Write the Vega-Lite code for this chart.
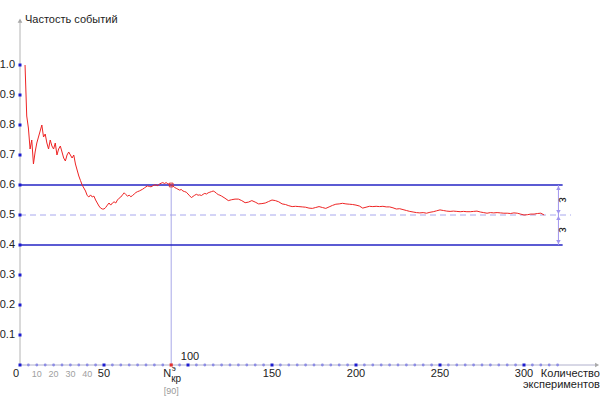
{
 "$schema": "https://vega.github.io/schema/vega-lite/v6.json",
 "width": 580, "height": 347,
 "autosize": {"type": "none"},
 "padding": {"left": 20, "top": 18, "right": 10, "bottom": 38},
 "background": "white",
 "config": {"view": {"stroke": null}, "text": {"font": "Liberation Sans Narrow, Liberation Sans, sans-serif", "fontSize": 11, "color": "#222222", "baseline": "middle"}},
 "encoding": {
  "x": {"field": "x", "type": "quantitative", "scale": {"domain": [0, 345.24], "nice": false, "zero": false}, "axis": null},
  "y": {"field": "y", "type": "quantitative", "scale": {"domain": [0, 1.1567], "nice": false, "zero": false}, "axis": null}
 },
 "datasets": {
  "yaxis": [{"x": 0, "y": 0, "y2": 1.15}],
  "xaxis": [{"x": 0, "y": 0, "x2": 343}],
  "yarrow": [{"x": 0, "y": 1.148}],
  "xarrow": [{"x": 343.5, "y": 0}],
  "mid": [{"x": 0, "y": 0.5, "x2": 328}],
  "vert": [{"x": 90, "y": 0, "y2": 0.6}],
  "bounds": [{"x": 0, "y": 0.6, "x2": 323}, {"x": 0, "y": 0.4, "x2": 323}],
  "eps": [{"x": 320.5, "y": 0.4, "y2": 0.6}],
  "epsUp": [{"x": 320.5, "y": 0.6}, {"x": 320.5, "y": 0.5}],
  "epsDown": [{"x": 320.5, "y": 0.5}, {"x": 320.5, "y": 0.4}],
  "epsText": [{"x": 323.5, "y": 0.55, "t": "ε"}, {"x": 323.5, "y": 0.45, "t": "ε"}],
  "curve": [
   {"x":3,"y":1.0},{"x":4,"y":0.83},{"x":5,"y":0.79},{"x":6,"y":0.72},{"x":7,"y":0.75},{"x":8,"y":0.67},{"x":9,"y":0.71},{"x":10,"y":0.74},
   {"x":11,"y":0.76},{"x":12,"y":0.78},{"x":13,"y":0.80},{"x":14,"y":0.76},{"x":15,"y":0.77},{"x":16,"y":0.74},{"x":17,"y":0.72},{"x":18,"y":0.75},
   {"x":19,"y":0.73},{"x":20,"y":0.72},{"x":21,"y":0.74},{"x":22,"y":0.70},{"x":23,"y":0.72},{"x":24,"y":0.73},{"x":25,"y":0.71},{"x":26,"y":0.69},
   {"x":27,"y":0.68},{"x":28,"y":0.70},{"x":29,"y":0.71},{"x":30,"y":0.70},{"x":31,"y":0.69},{"x":32,"y":0.70},{"x":33,"y":0.67},{"x":34,"y":0.65},
   {"x":35,"y":0.63},{"x":36,"y":0.615},{"x":37,"y":0.60},{"x":38,"y":0.59},{"x":39,"y":0.58},{"x":40,"y":0.565},{"x":41,"y":0.56},{"x":42,"y":0.567},
   {"x":43,"y":0.56},{"x":44,"y":0.563},{"x":45,"y":0.55},{"x":46,"y":0.54},{"x":47,"y":0.53},{"x":48,"y":0.523},{"x":49,"y":0.52},{"x":50,"y":0.52},
   {"x":51,"y":0.525},{"x":52,"y":0.533},{"x":53,"y":0.54},{"x":54,"y":0.533},{"x":55,"y":0.54},{"x":56,"y":0.544},{"x":57,"y":0.54},{"x":58,"y":0.55},
   {"x":59,"y":0.556},{"x":60,"y":0.56},{"x":61,"y":0.567},{"x":62,"y":0.574},{"x":63,"y":0.568},{"x":64,"y":0.563},{"x":65,"y":0.566},{"x":66,"y":0.561},
   {"x":67,"y":0.565},{"x":68,"y":0.57},{"x":69,"y":0.575},{"x":70,"y":0.578},{"x":71,"y":0.58},{"x":72,"y":0.583},{"x":73,"y":0.586},{"x":74,"y":0.59},
   {"x":75,"y":0.594},{"x":76,"y":0.597},{"x":77,"y":0.595},{"x":78,"y":0.594},{"x":79,"y":0.597},{"x":80,"y":0.60},{"x":81,"y":0.60},{"x":82,"y":0.598},
   {"x":83,"y":0.603},{"x":84,"y":0.606},{"x":85,"y":0.608},{"x":86,"y":0.605},{"x":87,"y":0.608},{"x":88,"y":0.604},{"x":89,"y":0.602},{"x":90,"y":0.60},
   {"x":91,"y":0.597},{"x":92,"y":0.592},{"x":93,"y":0.589},{"x":94,"y":0.586},{"x":95,"y":0.583},{"x":96,"y":0.585},{"x":97,"y":0.58},{"x":98,"y":0.578},
   {"x":99,"y":0.576},{"x":100,"y":0.57},{"x":101,"y":0.564},{"x":102,"y":0.558},{"x":103,"y":0.562},{"x":104,"y":0.566},{"x":105,"y":0.569},{"x":106,"y":0.566},
   {"x":107,"y":0.567},{"x":108,"y":0.565},{"x":109,"y":0.569},{"x":110,"y":0.572},{"x":111,"y":0.57},{"x":112,"y":0.574},{"x":113,"y":0.576},{"x":114,"y":0.578},
   {"x":115,"y":0.58},{"x":116,"y":0.577},{"x":117,"y":0.572},{"x":118,"y":0.568},{"x":119,"y":0.566},{"x":120,"y":0.563},
   {"x":122,"y":0.556},{"x":124,"y":0.548},{"x":126,"y":0.551},{"x":128,"y":0.553},{"x":130,"y":0.553},{"x":132,"y":0.548},{"x":134,"y":0.541},{"x":136,"y":0.543},
   {"x":138,"y":0.548},{"x":140,"y":0.543},{"x":142,"y":0.537},{"x":144,"y":0.538},{"x":146,"y":0.54},{"x":148,"y":0.545},{"x":150,"y":0.55},{"x":152,"y":0.548},
   {"x":154,"y":0.544},{"x":156,"y":0.537},{"x":158,"y":0.535},{"x":160,"y":0.531},{"x":162,"y":0.528},{"x":164,"y":0.529},{"x":166,"y":0.528},{"x":168,"y":0.527},
   {"x":170,"y":0.526},{"x":172,"y":0.523},{"x":174,"y":0.522},{"x":176,"y":0.525},{"x":178,"y":0.528},{"x":180,"y":0.525},{"x":182,"y":0.522},{"x":184,"y":0.527},
   {"x":186,"y":0.532},{"x":188,"y":0.536},{"x":190,"y":0.537},{"x":192,"y":0.539},{"x":194,"y":0.537},{"x":196,"y":0.536},{"x":198,"y":0.535},{"x":200,"y":0.533},
   {"x":202,"y":0.53},{"x":204,"y":0.523},{"x":206,"y":0.526},{"x":208,"y":0.529},{"x":210,"y":0.528},{"x":212,"y":0.529},{"x":214,"y":0.528},{"x":216,"y":0.529},
   {"x":218,"y":0.527},{"x":220,"y":0.527},{"x":222,"y":0.524},{"x":224,"y":0.52},{"x":226,"y":0.521},{"x":228,"y":0.518},{"x":230,"y":0.515},{"x":232,"y":0.512},
   {"x":234,"y":0.51},{"x":236,"y":0.508},{"x":238,"y":0.507},{"x":240,"y":0.508},{"x":242,"y":0.506},{"x":244,"y":0.509},{"x":246,"y":0.511},{"x":248,"y":0.514},
   {"x":250,"y":0.517},{"x":252,"y":0.515},{"x":254,"y":0.513},{"x":256,"y":0.512},{"x":258,"y":0.513},{"x":260,"y":0.512},{"x":262,"y":0.511},{"x":264,"y":0.512},
   {"x":266,"y":0.511},{"x":268,"y":0.511},{"x":270,"y":0.512},{"x":272,"y":0.513},{"x":274,"y":0.51},{"x":276,"y":0.508},{"x":278,"y":0.506},{"x":280,"y":0.508},
   {"x":282,"y":0.507},{"x":284,"y":0.508},{"x":286,"y":0.507},{"x":288,"y":0.506},{"x":290,"y":0.506},{"x":292,"y":0.505},{"x":294,"y":0.507},{"x":296,"y":0.506},
   {"x":298,"y":0.503},{"x":300,"y":0.50},{"x":302,"y":0.501},{"x":304,"y":0.503},{"x":306,"y":0.503},{"x":308,"y":0.505},{"x":310,"y":0.506},{"x":312,"y":0.50}
  ],
  "yticks": [{"x":0,"y":0.1,"t":"0.1"},{"x":0,"y":0.2,"t":"0.2"},{"x":0,"y":0.3,"t":"0.3"},{"x":0,"y":0.4,"t":"0.4"},{"x":0,"y":0.5,"t":"0.5"},{"x":0,"y":0.6,"t":"0.6"},{"x":0,"y":0.7,"t":"0.7"},{"x":0,"y":0.8,"t":"0.8"},{"x":0,"y":0.9,"t":"0.9"},{"x":0,"y":1.0,"t":"1.0"}],
  "xmajor": [{"x":0,"y":0},{"x":50,"y":0},{"x":100,"y":0},{"x":150,"y":0},{"x":200,"y":0},{"x":250,"y":0},{"x":300,"y":0}],
  "xminor": [{"x":5,"y":0},{"x":10,"y":0},{"x":15,"y":0},{"x":20,"y":0},{"x":25,"y":0},{"x":30,"y":0},{"x":35,"y":0},{"x":40,"y":0},{"x":45,"y":0},
   {"x":55,"y":0},{"x":60,"y":0},{"x":65,"y":0},{"x":70,"y":0},{"x":75,"y":0},{"x":80,"y":0},{"x":85,"y":0},{"x":95,"y":0},
   {"x":105,"y":0},{"x":110,"y":0},{"x":115,"y":0},{"x":120,"y":0},{"x":125,"y":0},{"x":130,"y":0},{"x":135,"y":0},{"x":140,"y":0},{"x":145,"y":0},
   {"x":155,"y":0},{"x":160,"y":0},{"x":165,"y":0},{"x":170,"y":0},{"x":175,"y":0},{"x":180,"y":0},{"x":185,"y":0},{"x":190,"y":0},{"x":195,"y":0},
   {"x":205,"y":0},{"x":210,"y":0},{"x":215,"y":0},{"x":220,"y":0},{"x":225,"y":0},{"x":230,"y":0},{"x":235,"y":0},{"x":240,"y":0},{"x":245,"y":0},
   {"x":255,"y":0},{"x":260,"y":0},{"x":265,"y":0},{"x":270,"y":0},{"x":275,"y":0},{"x":280,"y":0},{"x":285,"y":0},{"x":290,"y":0},{"x":295,"y":0},
   {"x":305,"y":0},{"x":310,"y":0},{"x":315,"y":0},{"x":320,"y":0}],
  "ncr": [{"x":90,"y":0}],
  "ncrTop": [{"x":90,"y":0.6}],
  "xlabels": [{"x":50,"y":0,"t":"50"},{"x":150,"y":0,"t":"150"},{"x":200,"y":0,"t":"200"},{"x":250,"y":0,"t":"250"},{"x":300,"y":0,"t":"300"}],
  "zero": [{"x":0,"y":0,"t":"0"}],
  "greyLabels": [{"x":10,"y":0,"t":"10"},{"x":20,"y":0,"t":"20"},{"x":30,"y":0,"t":"30"},{"x":40,"y":0,"t":"40"}],
  "hundred": [{"x":100,"y":0,"t":"100"}],
  "nLabel": [{"x":90,"y":0,"t":"N"}],
  "supLabel": [{"x":90,"y":0,"t":"э"}],
  "subLabel": [{"x":90,"y":0,"t":"кр"}],
  "bracket": [{"x":90,"y":0,"t":"[90]"}],
  "xtitle1": [{"x":345.2,"y":0,"t":"Количество"}],
  "xtitle2": [{"x":345.2,"y":0,"t":"экспериментов"}],
  "ytitle": [{"x":0,"y":1.1567,"t":"Частость событий"}]
 },
 "layer": [
  {"data": {"name": "yaxis"}, "mark": {"type": "rule", "color": "#b4b4b4"}, "encoding": {"y2": {"field": "y2"}}},
  {"data": {"name": "xaxis"}, "mark": {"type": "rule", "color": "#b0b0cc"}, "encoding": {"x2": {"field": "x2"}}},
  {"data": {"name": "yarrow"}, "mark": {"type": "point", "shape": "triangle-up", "size": 22, "filled": true, "color": "#a8a8a8", "opacity": 1}},
  {"data": {"name": "xarrow"}, "mark": {"type": "point", "shape": "triangle-right", "size": 22, "filled": true, "color": "#a8a8a8", "opacity": 1}},
  {"data": {"name": "mid"}, "mark": {"type": "rule", "color": "#a8a8ee", "strokeDash": [6, 4]}, "encoding": {"x2": {"field": "x2"}}},
  {"data": {"name": "vert"}, "mark": {"type": "rule", "color": "#a8a8e8"}, "encoding": {"y2": {"field": "y2"}}},
  {"data": {"name": "bounds"}, "mark": {"type": "rule", "color": "#2424c4", "strokeWidth": 1.5}, "encoding": {"x2": {"field": "x2"}}},
  {"data": {"name": "eps"}, "mark": {"type": "rule", "color": "#a094ee"}, "encoding": {"y2": {"field": "y2"}}},
  {"data": {"name": "epsUp"}, "mark": {"type": "point", "shape": "triangle-up", "size": 20, "filled": true, "color": "#a094ee", "opacity": 1, "yOffset": 3}},
  {"data": {"name": "epsDown"}, "mark": {"type": "point", "shape": "triangle-down", "size": 20, "filled": true, "color": "#a094ee", "opacity": 1, "yOffset": -3}},
  {"data": {"name": "epsText"}, "mark": {"type": "text", "angle": 90, "align": "center", "fontSize": 12}, "encoding": {"text": {"field": "t"}}},
  {"data": {"name": "curve"}, "mark": {"type": "line", "color": "#ee2424", "strokeWidth": 1}},
  {"data": {"name": "ncrTop"}, "mark": {"type": "point", "shape": "square", "size": 14, "filled": false, "color": "#dd3333", "strokeWidth": 1, "opacity": 1}},
  {"data": {"name": "xminor"}, "mark": {"type": "point", "shape": "circle", "size": 8, "filled": true, "color": "#8c8ce4", "opacity": 1}},
  {"data": {"name": "yticks"}, "mark": {"type": "point", "shape": "square", "size": 9, "filled": true, "color": "#1c1cd0", "opacity": 1}},
  {"data": {"name": "xmajor"}, "mark": {"type": "point", "shape": "square", "size": 9, "filled": true, "color": "#1c1cd0", "opacity": 1}},
  {"data": {"name": "ncr"}, "mark": {"type": "point", "shape": "square", "size": 10, "filled": true, "color": "#e03030", "opacity": 1}},
  {"data": {"name": "yticks"}, "mark": {"type": "text", "align": "right", "dx": -5}, "encoding": {"text": {"field": "t"}}},
  {"data": {"name": "xlabels"}, "mark": {"type": "text", "align": "center", "dy": 9}, "encoding": {"text": {"field": "t"}}},
  {"data": {"name": "zero"}, "mark": {"type": "text", "align": "right", "dx": -1, "dy": 9}, "encoding": {"text": {"field": "t"}}},
  {"data": {"name": "greyLabels"}, "mark": {"type": "text", "align": "center", "dy": 9, "fontSize": 9, "color": "#a0a0a0"}, "encoding": {"text": {"field": "t"}}},
  {"data": {"name": "hundred"}, "mark": {"type": "text", "align": "center", "dx": 2, "dy": -8}, "encoding": {"text": {"field": "t"}}},
  {"data": {"name": "nLabel"}, "mark": {"type": "text", "align": "right", "dx": 0, "dy": 9}, "encoding": {"text": {"field": "t"}}},
  {"data": {"name": "supLabel"}, "mark": {"type": "text", "align": "left", "dx": 0.5, "dy": 3.5, "fontSize": 8}, "encoding": {"text": {"field": "t"}}},
  {"data": {"name": "subLabel"}, "mark": {"type": "text", "align": "left", "dx": 0, "dy": 14, "fontSize": 10}, "encoding": {"text": {"field": "t"}}},
  {"data": {"name": "bracket"}, "mark": {"type": "text", "align": "center", "dy": 25.5, "fontSize": 9, "color": "#999999"}, "encoding": {"text": {"field": "t"}}},
  {"data": {"name": "xtitle1"}, "mark": {"type": "text", "align": "right", "dy": 8.5}, "encoding": {"text": {"field": "t"}}},
  {"data": {"name": "xtitle2"}, "mark": {"type": "text", "align": "right", "dy": 20}, "encoding": {"text": {"field": "t"}}},
  {"data": {"name": "ytitle"}, "mark": {"type": "text", "align": "left", "dx": 5, "dy": 2}, "encoding": {"text": {"field": "t"}}}
 ]
}
